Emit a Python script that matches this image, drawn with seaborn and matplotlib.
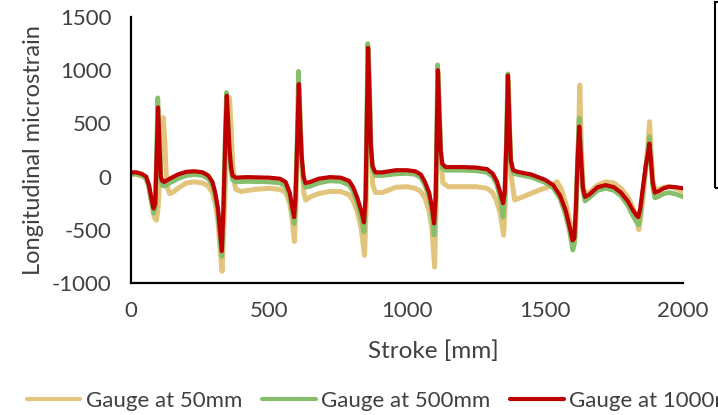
import matplotlib
matplotlib.use("Agg")
import matplotlib.pyplot as plt
import matplotlib.patches as mpatches
import seaborn as sns
import pandas as pd

# ---------------- data ----------------
red_x = [0, 20, 40, 55, 65, 75, 82, 88, 93, 98, 103, 108, 113, 120, 140, 170, 200, 230, 260, 280,
         295, 305, 315, 322, 329, 335, 342, 347, 352, 357, 362, 368, 380, 420, 500, 540, 560, 575,
         585, 591, 596, 602, 608, 613, 618, 625, 632, 650, 680, 720, 760, 790, 805, 820, 835, 844,
         850, 855, 859, 864, 869, 875, 885, 910, 960, 1000, 1030, 1050, 1065, 1080, 1090, 1098,
         1104, 1108, 1112, 1117, 1122, 1128, 1140, 1200, 1250, 1290, 1310, 1325, 1338, 1348, 1354,
         1360, 1366, 1371, 1376, 1385, 1400, 1450, 1500, 1530, 1555, 1575, 1590, 1600, 1606, 1612,
         1618, 1624, 1630, 1637, 1645, 1660, 1690, 1720, 1750, 1775, 1800, 1815, 1830, 1838, 1845,
         1855, 1865, 1872, 1878, 1884, 1890, 1898, 1910, 1930, 1950, 1975, 2000]
red_y = [40, 40, 25, 0, -80, -220, -300, -250, 200, 650, 300, 0, -40, -50, -20, 20, 45, 50, 40, 10,
         -50, -150, -300, -500, -700, -300, 400, 760, 500, 250, 100, 10, -10, -5, -10, -20, -50, -150,
         -300, -380, -200, 300, 870, 500, 200, 0, -60, -50, -20, -5, -10, -40, -100, -200, -330, -430,
         -200, 600, 1210, 800, 300, 100, 40, 40, 60, 60, 50, 20, -50, -150, -280, -440,
         -200, 400, 1000, 600, 250, 120, 90, 90, 85, 70, 30, -40, -150, -250, -150,
         300, 950, 500, 150, 60, 45, 20, -30, -80, -180, -320, -480, -600, -580, -300,
         150, 470, 200, -100, -190, -170, -100, -80, -100, -150, -230, -300, -360, -380, -300,
         -100, 100, 200, 310, 150, -50, -150, -140, -110, -95, -100, -110]

green_x = [0, 20, 40, 55, 65, 75, 82, 88, 93, 97, 103, 108, 113, 120, 140, 170, 200, 230, 260, 280,
           295, 305, 315, 322, 329, 335, 342, 346, 352, 357, 362, 368, 380, 420, 500, 540, 560, 575,
           585, 591, 596, 602, 607, 613, 618, 625, 632, 650, 680, 720, 760, 790, 805, 820, 835, 844,
           850, 855, 858, 864, 869, 875, 885, 910, 960, 1000, 1030, 1050, 1065, 1080, 1090, 1098,
           1104, 1108, 1111, 1117, 1122, 1128, 1140, 1200, 1250, 1290, 1310, 1325, 1338, 1348, 1354,
           1360, 1365, 1371, 1376, 1385, 1400, 1450, 1500, 1530, 1555, 1575, 1590, 1601, 1607, 1612,
           1618, 1624, 1630, 1637, 1645, 1660, 1690, 1720, 1750, 1775, 1800, 1815, 1830, 1839, 1846,
           1855, 1865, 1872, 1878, 1884, 1890, 1898, 1910, 1930, 1950, 1975, 2000]
green_y = [25, 25, 10, -15, -100, -250, -345, -280, 250, 740, 300, -40, -80, -90, -60, -20, 10, 20, 10, -20,
           -80, -180, -340, -550, -750, -320, 450, 790, 500, 220, 60, -30, -50, -45, -50, -60, -90, -190,
           -340, -440, -230, 350, 990, 520, 180, -40, -100, -90, -60, -40, -45, -80, -140, -250, -400, -520,
           -250, 650, 1250, 800, 280, 70, 10, 10, 25, 30, 20, -10, -80, -190, -330, -550,
           -250, 450, 1050, 580, 220, 80, 60, 60, 55, 40, 0, -70, -200, -380, -200,
           330, 965, 500, 130, 30, 20, -5, -55, -105, -210, -360, -530, -690, -620, -330,
           170, 550, 180, -130, -230, -200, -130, -110, -130, -180, -270, -350, -420, -455, -360,
           -140, 80, 220, 375, 120, -90, -200, -190, -160, -150, -165, -190]

gold_x = [0, 20, 40, 55, 65, 75, 84, 92, 98, 104, 110, 117, 123, 128, 134, 140, 150, 170, 200, 230,
          260, 280, 295, 305, 315, 322, 330, 336, 344, 350, 357, 363, 368, 374, 380, 400, 450, 500,
          540, 560, 575, 585, 592, 597, 603, 609, 614, 619, 626, 633, 650, 680, 720, 760, 790, 805,
          820, 835, 846, 852, 856, 860, 865, 870, 876, 886, 910, 960, 1000, 1030, 1050, 1065, 1080,
          1090, 1100, 1105, 1109, 1113, 1118, 1123, 1130, 1150, 1200, 1250, 1290, 1310, 1325, 1338,
          1350, 1356, 1361, 1367, 1372, 1378, 1390, 1420, 1480, 1520, 1543, 1560, 1575, 1590, 1604,
          1610, 1614, 1620, 1626, 1632, 1638, 1646, 1660, 1690, 1720, 1750, 1775, 1800, 1815, 1830,
          1840, 1847, 1857, 1866, 1873, 1879, 1885, 1891, 1899, 1910, 1930, 1950, 1975, 2000]
gold_y = [20, 20, 5, -20, -100, -250, -380, -410, -300, 0, 200, 555, 300, 0, -120, -160, -150, -110, -60, -50,
          -60, -90, -150, -250, -420, -650, -890, -500, 100, 500, 740, 450, 150, -50, -120, -140, -120, -110,
          -120, -150, -250, -420, -610, -300, 300, 820, 450, 100, -150, -220, -190, -160, -140, -140, -170, -230,
          -330, -500, -740, -300, 600, 1200, 750, 200, -80, -150, -150, -100, -95, -110, -140, -200, -320,
          -480, -850, -300, 400, 980, 550, 150, -60, -95, -95, -95, -110, -150, -230, -350,
          -550, -250, 300, 900, 420, 0, -220, -190, -126, -90, -48, -120, -250, -420, -650,
          -550, -200, 200, 860, 250, -80, -170, -150, -80, -50, -60, -110, -190, -270, -380,
          -500, -380, -150, 100, 300, 516, 200, -40, -130, -120, -100, -95, -110, -140]

series_names = ["Gauge at 50mm", "Gauge at 500mm", "Gauge at 1000mm"]
x_ticks = [0, 500, 1000, 1500, 2000]
y_ticks = [-1000, -500, 0, 500, 1000, 1500]

colors = ["#E2C47C", "#86BE6C", "#C00000"]
widths = [3.6, 3.4, 3.0]

# ---------------- plotting ----------------
sns.set_style("white")
plt.rcParams["font.family"] = ["Lato", "DejaVu Sans"]
plt.rcParams["axes.unicode_minus"] = False
text_color = "#404040"

fig = plt.figure(figsize=(7.18, 4.15), dpi=100)
ax = fig.add_axes([131 / 718, 1 - 283 / 415, (683 - 131) / 718, (283 - 17) / 415])

frames = []
for name, xs, ys in zip(series_names, [gold_x, green_x, red_x], [gold_y, green_y, red_y]):
    frames.append(pd.DataFrame({"Stroke": xs, "Strain": ys, "Series": name}))
df = pd.concat(frames, ignore_index=True)

for name, c, lw in zip(series_names, colors, widths):
    sns.lineplot(data=df[df["Series"] == name], x="Stroke", y="Strain", color=c,
                 linewidth=lw, sort=False, estimator=None, ax=ax, label=name,
                 solid_joinstyle="round", solid_capstyle="round")

ax.set_xlim(0, 2000)
ax.set_ylim(-1000, 1500)
ax.set_xticks(x_ticks)
ax.set_yticks(y_ticks)
ax.tick_params(axis="both", length=0, labelsize=16, colors=text_color)
ax.tick_params(axis="y", pad=14)
ax.tick_params(axis="x", pad=13)
for s in ["top", "right"]:
    ax.spines[s].set_visible(False)
for s in ["left", "bottom"]:
    ax.spines[s].set_color("black")
    ax.spines[s].set_linewidth(1.6)

ax.set_xlabel("Stroke [mm]", fontsize=17.5, color=text_color)
ax.set_ylabel("Longitudinal microstrain", fontsize=17, color=text_color)
ax.xaxis.set_label_coords((433 - 131) / 552, -57 / 266)
ax.yaxis.set_label_coords(-(131 - 44) / 552, 0.5)

handles, labels = ax.get_legend_handles_labels()
ax.get_legend().remove()
leg = fig.legend(handles, labels, loc="center left", bbox_to_anchor=(27 / 718, 1 - 401 / 415),
                 ncol=3, frameon=False, fontsize=16, handlelength=2.4, handletextpad=0.25,
                 columnspacing=0.9, borderaxespad=0, borderpad=0)
for t in leg.get_texts():
    t.set_color(text_color)
for h in leg.get_lines():
    h.set_linewidth(3)

# partial box visible at the right edge
rect = mpatches.Rectangle((715 / 718, 1 - 188 / 415), 0.1, 186 / 415, transform=fig.transFigure,
                          fill=False, edgecolor="black", linewidth=1.5, clip_on=False)
fig.patches.append(rect)

fig.savefig("out.png", dpi=100)
